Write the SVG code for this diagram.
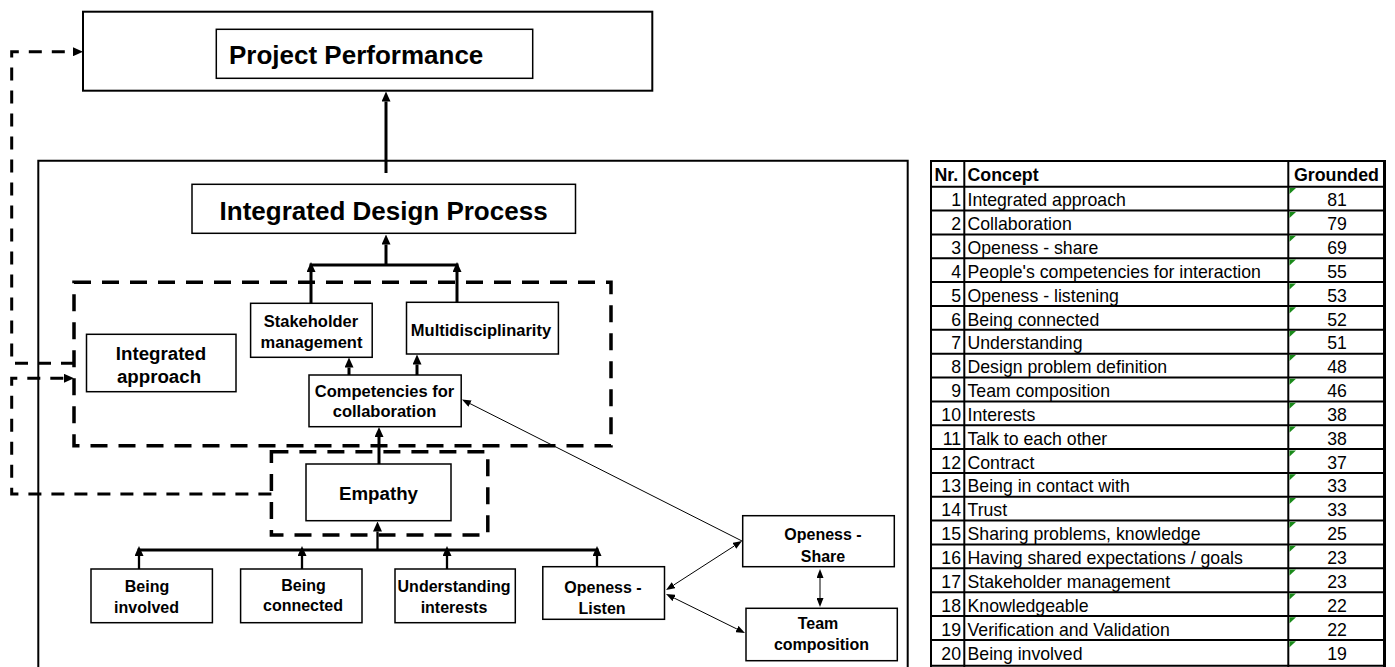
<svg xmlns="http://www.w3.org/2000/svg" width="1395" height="667" viewBox="0 0 1395 667">
<defs>
<marker id="a" markerUnits="userSpaceOnUse" markerWidth="10" markerHeight="9" refX="0" refY="4.5" orient="auto-start-reverse"><path d="M0,0 L10,4.5 L0,9 z" fill="#000"/></marker>
<marker id="s" markerUnits="userSpaceOnUse" markerWidth="9" markerHeight="7" refX="0" refY="3.5" orient="auto-start-reverse"><path d="M0,0 L9,3.5 L0,7 z" fill="#000"/></marker>
</defs>
<style>
.box{fill:#fff;stroke:#000;stroke-width:1.5}
.big{fill:none;stroke:#000;stroke-width:2}
.dbox{fill:none;stroke:#000;stroke-width:3.5;stroke-dasharray:17 11}
.fb{fill:none;stroke:#000;stroke-width:3;stroke-dasharray:13 10}
.thick{stroke:#000;stroke-width:3;fill:none}
.mid{stroke:#000;stroke-width:2.3;fill:none}
.thin{stroke:#000;stroke-width:1;fill:none}
.t{font-family:"Liberation Sans",Arial,sans-serif;font-weight:bold;fill:#000}
.c{text-anchor:middle}
.tt{font-family:"Liberation Sans",Arial,sans-serif;font-size:17.7px;fill:#000}
.th{font-family:"Liberation Sans",Arial,sans-serif;font-size:17.8px;font-weight:bold;fill:#000}
.grid{stroke:#000;stroke-width:2}
.g{fill:#1a8a1a}
</style>
<rect width="1395" height="667" fill="#fff"/>

<g id="project-performance">
<rect class="big" x="83" y="11.7" width="569.3" height="79"/>
<rect class="box" x="216.3" y="29.3" width="316.4" height="49"/>
<text class="t" x="229" y="64" font-size="26">Project Performance</text>
</g>

<g id="container">
<path class="big" d="M38.3,700 V160.7 H907.7 V700"/>
</g>

<g id="integrated-design-process">
<rect class="box" x="192" y="184.3" width="383.5" height="49"/>
<text class="t" x="219.6" y="219.5" font-size="26">Integrated Design Process</text>
</g>

<g id="group-integrated">
<rect class="dbox" x="74" y="282.3" width="537" height="163.5"/>
</g>

<g id="integrated-approach">
<rect class="box" x="86.5" y="334.3" width="149.5" height="57.4"/>
<text class="t c" x="161" y="360" font-size="18.7">Integrated</text>
<text class="t c" x="159" y="383.3" font-size="18.7">approach</text>
</g>

<g id="stakeholder-management">
<rect class="box" x="250.6" y="303.3" width="121.6" height="54"/>
<text class="t c" x="311" y="326.5" font-size="16.5">Stakeholder</text>
<text class="t c" x="311.5" y="347.5" font-size="16.5">management</text>
</g>

<g id="multidisciplinarity">
<rect class="box" x="406.5" y="302.3" width="151.9" height="51.7"/>
<text class="t c" x="481" y="336" font-size="16.5">Multidisciplinarity</text>
</g>

<g id="competencies">
<rect class="box" x="309" y="375" width="152.2" height="51.7"/>
<text class="t c" x="384.5" y="396.5" font-size="16.5">Competencies for</text>
<text class="t c" x="384.5" y="417" font-size="16.5">collaboration</text>
</g>

<g id="group-empathy">
<rect class="dbox" x="271.4" y="451.7" width="216.4" height="83.3"/>
</g>

<g id="empathy">
<rect class="box" x="306" y="464" width="145" height="56.7"/>
<text class="t c" x="378.5" y="500" font-size="18.7">Empathy</text>
</g>

<g id="being-involved">
<rect class="box" x="91" y="569" width="121.4" height="53.7"/>
<text class="t c" x="147" y="592.2" font-size="16">Being</text>
<text class="t c" x="146.5" y="613.2" font-size="16">involved</text>
</g>

<g id="being-connected">
<rect class="box" x="240.6" y="569" width="121.4" height="53.7"/>
<text class="t c" x="303.5" y="590.5" font-size="16">Being</text>
<text class="t c" x="303" y="610.5" font-size="16">connected</text>
</g>

<g id="understanding-interests">
<rect class="box" x="395" y="569" width="120.3" height="53.7"/>
<text class="t c" x="454" y="591.5" font-size="16">Understanding</text>
<text class="t c" x="454" y="612.5" font-size="16">interests</text>
</g>

<g id="openess-listen">
<rect class="box" x="542.8" y="566.7" width="121.7" height="52.6"/>
<text class="t c" x="603" y="592.5" font-size="16">Openess -</text>
<text class="t c" x="602" y="613.5" font-size="16">Listen</text>
</g>

<g id="openess-share">
<rect class="box" x="742.7" y="515.7" width="151.6" height="51"/>
<text class="t c" x="823" y="539.5" font-size="16">Openess -</text>
<text class="t c" x="823" y="561.5" font-size="16">Share</text>
</g>

<g id="team-composition">
<rect class="box" x="746" y="608.3" width="151.3" height="52.4"/>
<text class="t c" x="818" y="628.8" font-size="16">Team</text>
<text class="t c" x="821.5" y="649.8" font-size="16">composition</text>
</g>

<g id="connectors">
<line class="thick" x1="386" y1="173" x2="386" y2="101.5" marker-end="url(#a)"/>
<line class="thick" x1="386" y1="265" x2="386" y2="244.5" marker-end="url(#a)"/>
<line class="thick" x1="309.5" y1="265" x2="458.5" y2="265"/>
<line class="thick" x1="311" y1="303" x2="311" y2="272" marker-end="url(#a)"/>
<line class="thick" x1="457" y1="302" x2="457" y2="272" marker-end="url(#a)"/>
<line class="thick" x1="349" y1="375" x2="349" y2="367.5" marker-end="url(#a)"/>
<line class="thick" x1="417" y1="375" x2="417" y2="364.5" marker-end="url(#a)"/>
<line class="thick" x1="379" y1="464" x2="379" y2="437" marker-end="url(#a)"/>
<line class="thick" x1="137.5" y1="550" x2="598.5" y2="550"/>
<line class="mid" x1="377.5" y1="550" x2="377.5" y2="531.5" marker-end="url(#a)"/>
<line class="mid" x1="139" y1="569" x2="139" y2="556" marker-end="url(#a)"/>
<line class="mid" x1="302" y1="569" x2="302" y2="556" marker-end="url(#a)"/>
<line class="mid" x1="447" y1="569" x2="447" y2="556" marker-end="url(#a)"/>
<line class="mid" x1="597" y1="566.7" x2="597" y2="556" marker-end="url(#a)"/>
<line class="thin" x1="673.6" y1="585.1" x2="734.4" y2="545.9" marker-start="url(#s)" marker-end="url(#s)"/>
<line class="thin" x1="674.1" y1="598" x2="736.9" y2="629" marker-start="url(#s)" marker-end="url(#s)"/>
<line class="thin" x1="742" y1="541" x2="470" y2="403.6" marker-end="url(#s)"/>
<line class="thin" x1="820" y1="578" x2="820" y2="598" marker-start="url(#s)" marker-end="url(#s)"/>
<path class="fb" d="M74,363.3 H11.7 V51.7 H73" marker-end="url(#a)"/>
<path class="fb" d="M271.4,494 H11.7 V378.3 H64" marker-end="url(#a)"/>
</g>

<g id="table">
<rect x="931" y="161" width="454" height="504" fill="#fff" stroke="none"/>
<g class="grid">
<line x1="930" y1="161" x2="1386" y2="161"/>
<line x1="930" y1="186.7" x2="1386" y2="186.7"/>
<line x1="930" y1="210.6" x2="1386" y2="210.6"/>
<line x1="930" y1="234.4" x2="1386" y2="234.4"/>
<line x1="930" y1="258.3" x2="1386" y2="258.3"/>
<line x1="930" y1="282.1" x2="1386" y2="282.1"/>
<line x1="930" y1="306" x2="1386" y2="306"/>
<line x1="930" y1="329.8" x2="1386" y2="329.8"/>
<line x1="930" y1="353.7" x2="1386" y2="353.7"/>
<line x1="930" y1="377.5" x2="1386" y2="377.5"/>
<line x1="930" y1="401.4" x2="1386" y2="401.4"/>
<line x1="930" y1="425.2" x2="1386" y2="425.2"/>
<line x1="930" y1="449.1" x2="1386" y2="449.1"/>
<line x1="930" y1="472.9" x2="1386" y2="472.9"/>
<line x1="930" y1="496.8" x2="1386" y2="496.8"/>
<line x1="930" y1="520.6" x2="1386" y2="520.6"/>
<line x1="930" y1="544.5" x2="1386" y2="544.5"/>
<line x1="930" y1="568.3" x2="1386" y2="568.3"/>
<line x1="930" y1="592.2" x2="1386" y2="592.2"/>
<line x1="930" y1="616" x2="1386" y2="616"/>
<line x1="930" y1="639.9" x2="1386" y2="639.9"/>
<line x1="930" y1="665.8" x2="1386" y2="665.8"/>
<line x1="931" y1="160" x2="931" y2="667"/>
<line x1="964.3" y1="160" x2="964.3" y2="667"/>
<line x1="1288.3" y1="160" x2="1288.3" y2="667"/>
<line x1="1384.5" y1="160" x2="1384.5" y2="667" stroke-width="3"/>
</g>
<g class="g">
<polygon points="1289.5,188 1296,188 1289.5,194"/>
<polygon points="1289.5,211.9 1296,211.9 1289.5,217.9"/>
<polygon points="1289.5,235.7 1296,235.7 1289.5,241.7"/>
<polygon points="1289.5,259.6 1296,259.6 1289.5,265.6"/>
<polygon points="1289.5,283.4 1296,283.4 1289.5,289.4"/>
<polygon points="1289.5,307.3 1296,307.3 1289.5,313.3"/>
<polygon points="1289.5,331.1 1296,331.1 1289.5,337.1"/>
<polygon points="1289.5,355 1296,355 1289.5,361"/>
<polygon points="1289.5,378.8 1296,378.8 1289.5,384.8"/>
<polygon points="1289.5,402.7 1296,402.7 1289.5,408.7"/>
<polygon points="1289.5,426.5 1296,426.5 1289.5,432.5"/>
<polygon points="1289.5,450.4 1296,450.4 1289.5,456.4"/>
<polygon points="1289.5,474.2 1296,474.2 1289.5,480.2"/>
<polygon points="1289.5,498.1 1296,498.1 1289.5,504.1"/>
<polygon points="1289.5,521.9 1296,521.9 1289.5,527.9"/>
<polygon points="1289.5,545.8 1296,545.8 1289.5,551.8"/>
<polygon points="1289.5,569.6 1296,569.6 1289.5,575.6"/>
<polygon points="1289.5,593.5 1296,593.5 1289.5,599.5"/>
<polygon points="1289.5,617.3 1296,617.3 1289.5,623.3"/>
<polygon points="1289.5,641.2 1296,641.2 1289.5,647.2"/>
</g>
<text class="th" x="934.5" y="181" font-size="16.5">Nr.</text>
<text class="th" x="967.5" y="181">Concept</text>
<text class="th" x="1294" y="181">Grounded</text>
<g class="tt" text-anchor="end">
<text x="961" y="206.2">1</text>
<text x="961" y="230.1">2</text>
<text x="961" y="253.9">3</text>
<text x="961" y="277.8">4</text>
<text x="961" y="301.6">5</text>
<text x="961" y="325.5">6</text>
<text x="961" y="349.3">7</text>
<text x="961" y="373.2">8</text>
<text x="961" y="397">9</text>
<text x="961" y="420.9">10</text>
<text x="961" y="444.7">11</text>
<text x="961" y="468.6">12</text>
<text x="961" y="492.4">13</text>
<text x="961" y="516.3">14</text>
<text x="961" y="540.1">15</text>
<text x="961" y="564">16</text>
<text x="961" y="587.8">17</text>
<text x="961" y="611.7">18</text>
<text x="961" y="635.5">19</text>
<text x="961" y="660.4">20</text>
</g>
<g class="tt">
<text x="967.5" y="206.2">Integrated approach</text>
<text x="967.5" y="230.1">Collaboration</text>
<text x="967.5" y="253.9">Openess - share</text>
<text x="967.5" y="277.8">People's competencies for interaction</text>
<text x="967.5" y="301.6">Openess - listening</text>
<text x="967.5" y="325.5">Being connected</text>
<text x="967.5" y="349.3">Understanding</text>
<text x="967.5" y="373.2">Design problem definition</text>
<text x="967.5" y="397">Team composition</text>
<text x="967.5" y="420.9">Interests</text>
<text x="967.5" y="444.7">Talk to each other</text>
<text x="967.5" y="468.6">Contract</text>
<text x="967.5" y="492.4">Being in contact with</text>
<text x="967.5" y="516.3">Trust</text>
<text x="967.5" y="540.1">Sharing problems, knowledge</text>
<text x="967.5" y="564">Having shared expectations / goals</text>
<text x="967.5" y="587.8">Stakeholder management</text>
<text x="967.5" y="611.7">Knowledgeable</text>
<text x="967.5" y="635.5">Verification and Validation</text>
<text x="967.5" y="660.4">Being involved</text>
</g>
<g class="tt" text-anchor="middle">
<text x="1337" y="206.2">81</text>
<text x="1337" y="230.1">79</text>
<text x="1337" y="253.9">69</text>
<text x="1337" y="277.8">55</text>
<text x="1337" y="301.6">53</text>
<text x="1337" y="325.5">52</text>
<text x="1337" y="349.3">51</text>
<text x="1337" y="373.2">48</text>
<text x="1337" y="397">46</text>
<text x="1337" y="420.9">38</text>
<text x="1337" y="444.7">38</text>
<text x="1337" y="468.6">37</text>
<text x="1337" y="492.4">33</text>
<text x="1337" y="516.3">33</text>
<text x="1337" y="540.1">25</text>
<text x="1337" y="564">23</text>
<text x="1337" y="587.8">23</text>
<text x="1337" y="611.7">22</text>
<text x="1337" y="635.5">22</text>
<text x="1337" y="660.4">19</text>
</g>
</g>
</svg>
